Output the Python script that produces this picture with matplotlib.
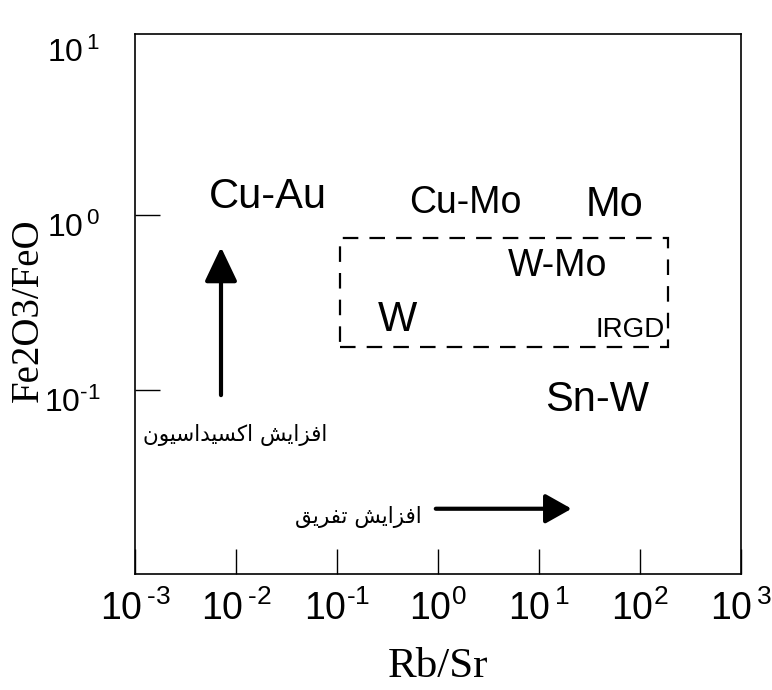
import matplotlib
matplotlib.use('Agg')
import matplotlib.pyplot as plt
import matplotlib.transforms as mtransforms
from matplotlib.patches import Rectangle

# tick decades (hyphen instead of minus, as in the original figure)
x_ticks = [1e-3, 1e-2, 1e-1, 1e0, 1e1, 1e2, 1e3]
x_tick_labels = ['10$^{\\,\u20103}$', '10$^{\\,\u20102}$', '10$^{\u20101}$', '10$^{0}$',
                 '10$^{\\,1}$', '10$^{2}$', '10$^{\\,3}$']
y_ticks = [1e-1, 1e0, 1e1]
y_tick_labels = ['10$^{\u20101}$', '10$^{\\,0}$', '10$^{\\,1}$']

# deposit fields (label, Rb/Sr, Fe2O3/FeO, size)
field_labels = ['Cu-Au', 'Cu-Mo', 'Mo', 'W-Mo', 'W', 'IRGD', 'Sn-W']
field_x = [0.0208, 1.85, 56.5, 15.1, 0.393, 79.4, 37.5]
field_y = [1.27, 1.17, 1.14, 0.511, 0.251, 0.22, 0.0877]
field_size = [30, 27, 30, 27, 30, 20, 30]

# IRGD dashed box corners
irgd_x = [0.107, 189]
irgd_y = [0.176, 0.739]

# arrows: oxidation (vertical) and differentiation (horizontal)
ox_arrow_x = [0.0071, 0.0071]
ox_arrow_y = [0.0936, 0.655]
diff_arrow_x = [0.95, 21.0]
diff_arrow_y = [0.0210, 0.0210]

# persian captions, logical order in presentation forms (matplotlib does no shaping)
# افزایش اکسیداسیون
oxid_forms = ['\uFE8D', '\uFED3', '\uFEB0', '\uFE8D', '\uFBFE', '\uFEB6', ' ',
              '\uFE8D', '\uFB90', '\uFEB4', '\uFBFF', '\uFEAA', '\uFE8D', '\uFEB3',
              '\uFBFF', '\uFEEE', '\uFEE5']
# افزایش تفریق
diff_forms = ['\uFE8D', '\uFED3', '\uFEB0', '\uFE8D', '\uFBFE', '\uFEB6', ' ',
              '\uFE97', '\uFED4', '\uFEAE', '\uFBFE', '\uFED6']
oxid_text = ''.join(reversed(oxid_forms))
diff_text = ''.join(reversed(diff_forms))
oxid_pos = (0.0098, 0.0553)
diff_pos = (0.161, 0.0188)

plt.rcParams['mathtext.fontset'] = 'custom'
plt.rcParams['mathtext.rm'] = 'Liberation Sans'
plt.rcParams['mathtext.default'] = 'rm'
plt.rcParams['font.family'] = ['Liberation Sans', 'DejaVu Sans']

fig = plt.figure(figsize=(7.72, 6.9), dpi=100)
ax = fig.add_axes([0.1749, 0.168, 0.785, 0.7827])
ax.set_xscale('log')
ax.set_yscale('log')
ax.set_xlim(1e-3, 1e3)
ax.set_ylim(10 ** -2.051, 10 ** 1.034)

for s in ax.spines.values():
    s.set_linewidth(1.2)

ax.set_xticks(x_ticks)
ax.set_xticklabels(x_tick_labels)
ax.set_yticks(y_ticks)
ax.set_yticklabels(y_tick_labels)
ax.minorticks_off()
ax.tick_params(direction='in', length=18, width=1)
ax.tick_params(axis='x', labelsize=27, pad=12)
ax.tick_params(axis='y', labelsize=23, pad=25)
ax.yaxis.get_major_ticks()[2].tick1line.set_visible(False)
# y labels sit a little below their ticks in the original
shift = mtransforms.ScaledTranslation(0, -7 / 72, fig.dpi_scale_trans)
for lbl in ax.get_yticklabels():
    lbl.set_transform(lbl.get_transform() + shift)

ax.set_xlabel('Rb/Sr', family='Liberation Serif', fontsize=31, labelpad=14)
ax.set_ylabel('Fe2O3/FeO', family='Liberation Serif', fontsize=28)
ax.yaxis.set_label_coords(-0.146, 0.489)

for lab, x, y, fs in zip(field_labels, field_x, field_y, field_size):
    ax.text(x, y, lab, fontsize=fs, ha='center', va='center')

ax.add_patch(Rectangle((irgd_x[0], irgd_y[0]), irgd_x[1] - irgd_x[0], irgd_y[1] - irgd_y[0],
                       fill=False, ls=(0, (7, 5)), lw=1.6, color='black'))

ax.annotate('', xy=(ox_arrow_x[1], ox_arrow_y[1]), xytext=(ox_arrow_x[0], ox_arrow_y[0]),
            arrowprops=dict(arrowstyle='-|>,head_length=2.1,head_width=1.0', lw=3,
                            color='black', shrinkA=0, shrinkB=0))
ax.annotate('', xy=(diff_arrow_x[1], diff_arrow_y[1]), xytext=(diff_arrow_x[0], diff_arrow_y[0]),
            arrowprops=dict(arrowstyle='-|>,head_length=1.6,head_width=0.9', lw=3,
                            color='black', shrinkA=0, shrinkB=0))

ax.text(oxid_pos[0], oxid_pos[1], oxid_text, fontsize=15.5, ha='center', va='center',
        family=['DejaVu Sans'])
ax.text(diff_pos[0], diff_pos[1], diff_text, fontsize=15.5, ha='center', va='center',
        family=['DejaVu Sans'])

fig.savefig('out.png', dpi=100)
